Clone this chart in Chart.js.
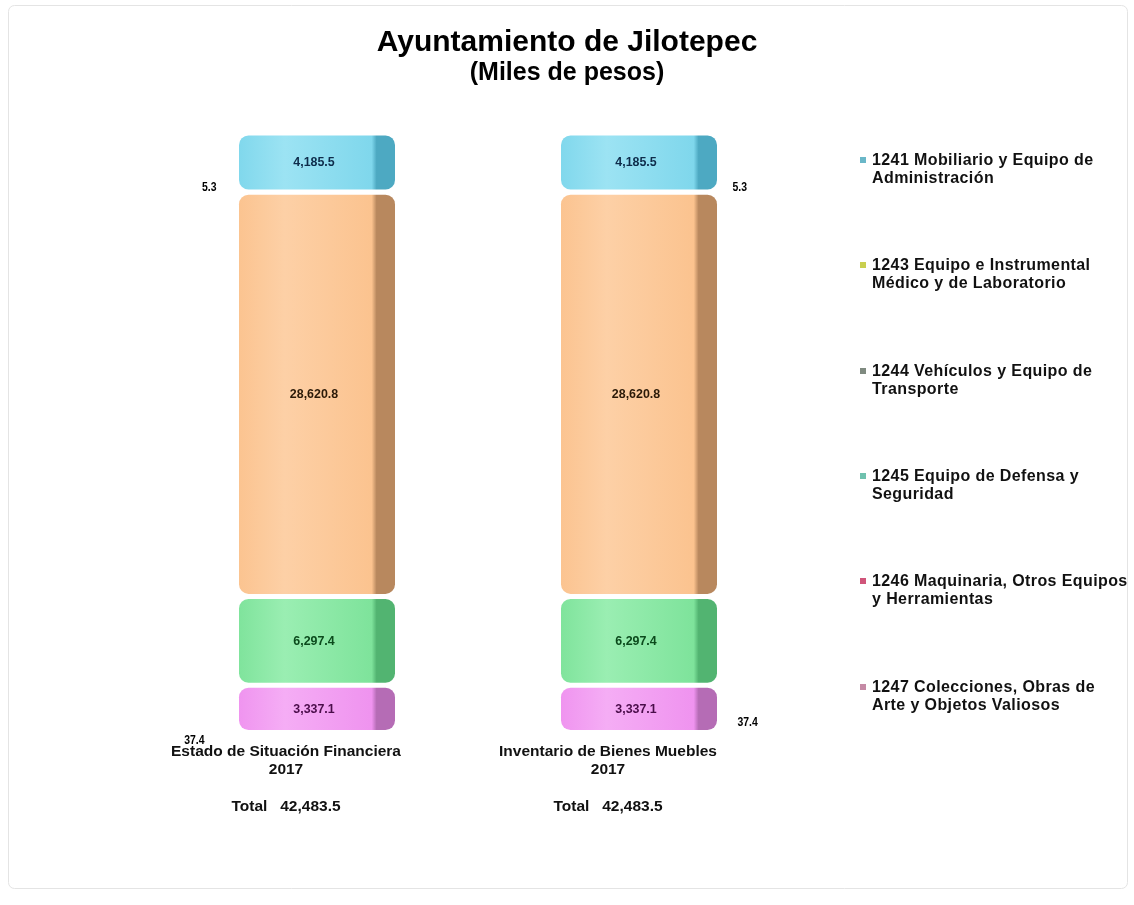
<!DOCTYPE html>
<html>
<head>
<meta charset="utf-8">
<script src="https://cdn.jsdelivr.net/npm/chart.js@4.4.1/dist/chart.umd.min.js"></script>
<style>
  html, body { margin: 0; padding: 0; background: #fff; }
  #wrap { position: relative; width: 1134px; height: 905px; }
  #legend { position: absolute; left: 0; top: 0; }
  .item { position: absolute; left: 860px; width: 274px; font: bold 16px "Liberation Sans", Arial, sans-serif; letter-spacing: 0.4px; line-height: 18px; color: #111; white-space: nowrap; }
  .item i { position: absolute; left: 0; top: 6px; width: 6px; height: 6px; }
  .item span { display: block; margin-left: 12px; }
</style>
</head>
<body>
<div id="wrap">
  <canvas id="chart" width="1134" height="905"></canvas>
  <div id="legend"></div>
</div>
<script>
// categories (x axis)
const categories = [
  ['Estado de Situación Financiera', '2017'],
  ['Inventario de Bienes Muebles', '2017']
];

// series, legend order (top to bottom)
const seriesLabels = [
  ['1241 Mobiliario y Equipo de', 'Administración'],
  ['1243 Equipo e Instrumental', 'Médico y de Laboratorio'],
  ['1244 Vehículos y Equipo de', 'Transporte'],
  ['1245 Equipo de Defensa y', 'Seguridad'],
  ['1246 Maquinaria, Otros Equipos', 'y Herramientas'],
  ['1247 Colecciones, Obras de', 'Arte y Objetos Valiosos']
];

const v1241 = [4185.5, 4185.5];
const v1243 = [5.3, 5.3];
const v1244 = [28620.8, 28620.8];
const v1245 = [6297.4, 6297.4];
const v1246 = [3337.1, 3337.1];
const v1247 = [37.4, 37.4];

const seriesValues = [v1241, v1243, v1244, v1245, v1246, v1247];

const totals = categories.map((c, i) => seriesValues.reduce((s, arr) => s + arr[i], 0));

const fmt = v => v.toLocaleString('en-US', { minimumFractionDigits: 1, maximumFractionDigits: 1 });

// face / side colours and label colours per series
const styles = [
  { face: '#7fd7ec', light: '#9ce3f3', side: '#4da9c2', text: '#0e2c4a', legend: '#6ab7c8' },
  { face: '#f2ea8a', light: '#f7f0a8', side: '#c9bf55', text: '#000', legend: '#c9cf4f' },
  { face: '#fbc38f', light: '#fdd0a6', side: '#b8885e', text: '#2b1a08', legend: '#7f8a80' },
  { face: '#7ee39b', light: '#9aeeb2', side: '#52b471', text: '#0b4a1c', legend: '#6fc1ae' },
  { face: '#ef93ef', light: '#f5adf5', side: '#b56cb5', text: '#4a0d4a', legend: '#d0557a' },
  { face: '#c77fc7', light: '#d89ad8', side: '#935a93', text: '#000', legend: '#c58aa5' }
];

// outside label placement for the thin segments
const outside = {
  1: [{ side: -1, dx: 20, dy: -4, ref: 'y' }, { side: 1, dx: 13, dy: -4, ref: 'y' }],
  5: [{ side: -1, dx: 32, dy: 8, ref: 'base' }, { side: 1, dx: 18, dy: -10, ref: 'base' }]
};

function barFill(s) {
  return function (ctx) {
    const chart = ctx.chart;
    if (!chart.chartArea || ctx.dataIndex === undefined) return s.face;
    const xs = chart.scales.x;
    const cx = xs.getPixelForValue(ctx.dataIndex);
    const w = xs.width / categories.length * 0.5;
    const g = chart.ctx.createLinearGradient(cx - w / 2, 0, cx + w / 2, 0);
    g.addColorStop(0, s.face);
    g.addColorStop(0.3, s.light);
    g.addColorStop(0.84, s.face);
    g.addColorStop(0.87, s.side);
    g.addColorStop(1, s.side);
    return g;
  };
}

// segments stacked bottom-up (reverse of legend order), drawn as floating bars
const stackOrder = seriesValues.map((v, si) => si).reverse();
const running = categories.map(() => 0);
const datasets = stackOrder.map(si => {
  const vals = seriesValues[si];
  const data = vals.map((v, i) => {
    const seg = [running[i], running[i] + v];
    running[i] += v;
    return seg;
  });
  return {
    label: seriesLabels[si].join(' '),
    data: data,
    values: vals,
    seriesIndex: si,
    backgroundColor: barFill(styles[si]),
    borderColor: 'rgba(255,255,255,0)',
    borderWidth: 2.5,
    borderSkipped: false,
    borderRadius: 12,
    barPercentage: 0.5,
    categoryPercentage: 1.0
  };
});

const panel = {
  id: 'panel',
  beforeDraw(chart) {
    const c = chart.ctx;
    c.save();
    c.fillStyle = '#fff';
    c.fillRect(0, 0, chart.width, chart.height);
    c.strokeStyle = '#e4e4e4';
    c.lineWidth = 1;
    c.beginPath();
    c.roundRect(8.5, 5.5, 1119, 883, 6);
    c.stroke();
    c.restore();
  }
};

const valueLabels = {
  id: 'valueLabels',
  afterDatasetsDraw(chart) {
    const c = chart.ctx;
    c.save();
    c.textBaseline = 'middle';
    chart.data.datasets.forEach((ds, di) => {
      const meta = chart.getDatasetMeta(di);
      const si = ds.seriesIndex;
      meta.data.forEach((bar, i) => {
        const text = fmt(ds.values[i]);
        const half = bar.width / 2;
        if (outside[si]) {
          const o = outside[si][i];
          c.font = 'bold 12px "Liberation Sans", Arial, sans-serif';
          c.textAlign = o.side < 0 ? 'right' : 'left';
          c.fillStyle = '#000';
          const x = o.side < 0 ? bar.x - half - o.dx : bar.x + half + o.dx;
          const y = (o.ref === 'base' ? bar.base : bar.y) + o.dy;
          c.save();
          c.translate(x, y);
          c.scale(0.87, 1);
          c.fillText(text, 0, 0);
          c.restore();
        } else {
          c.font = 'bold 13.5px "Liberation Sans", Arial, sans-serif';
          c.textAlign = 'center';
          c.fillStyle = styles[si].text;
          c.save();
          c.translate(bar.x - 3, (bar.y + bar.base) / 2);
          c.scale(0.92, 1);
          c.fillText(text, 0, 0);
          c.restore();
        }
      });
    });
    c.restore();
  }
};

new Chart(document.getElementById('chart'), {
  type: 'bar',
  data: { labels: categories.map(c => c[0]), datasets: datasets },
  options: {
    responsive: false,
    animation: false,
    events: [],
    layout: { padding: 0 },
    plugins: {
      legend: { display: false },
      tooltip: { enabled: false },
      title: {
        display: true,
        text: 'Ayuntamiento de Jilotepec',
        color: '#000',
        font: { family: '"Liberation Sans", Arial, sans-serif', size: 30, weight: 'bold', lineHeight: 1.1 },
        padding: { top: 26, bottom: 0 }
      },
      subtitle: {
        display: true,
        text: '(Miles de pesos)',
        color: '#000',
        font: { family: '"Liberation Sans", Arial, sans-serif', size: 25, weight: 'bold', lineHeight: 1.1 },
        padding: { top: 0, bottom: 46.5 }
      }
    },
    scales: {
      x: {
        stacked: true,
        grid: { display: false },
        border: { display: false },
        ticks: {
          color: '#111',
          padding: 2,
          labelOffset: -31,
          maxRotation: 0,
          autoSkip: false,
          font: { family: '"Liberation Sans", Arial, sans-serif', size: 15.5, weight: 'bold', lineHeight: 1.17 },
          callback: (val, i) => [categories[i][0], categories[i][1], '', 'Total   ' + fmt(totals[i])]
        },
        afterFit: s => { s.height = 172; }
      },
      y: {
        min: 0,
        max: Math.max(...totals),
        grid: { display: false },
        border: { display: false },
        ticks: { display: false },
        afterFit: s => { s.width = 156; }
      },
      yr: {
        type: 'linear',
        position: 'right',
        grid: { display: false },
        border: { display: false },
        ticks: { display: false },
        afterFit: s => { s.width = 334; }
      }
    }
  },
  plugins: [panel, valueLabels]
});

// legend (HTML), same order as the reference
const legend = document.getElementById('legend');
seriesLabels.forEach((lines, si) => {
  const d = document.createElement('div');
  d.className = 'item';
  d.style.top = (151 + si * 105.3) + 'px';
  const m = document.createElement('i');
  m.style.background = styles[si].legend;
  const t = document.createElement('span');
  t.innerHTML = lines.join('<br>');
  d.appendChild(m);
  d.appendChild(t);
  legend.appendChild(d);
});
</script>
</body>
</html>
